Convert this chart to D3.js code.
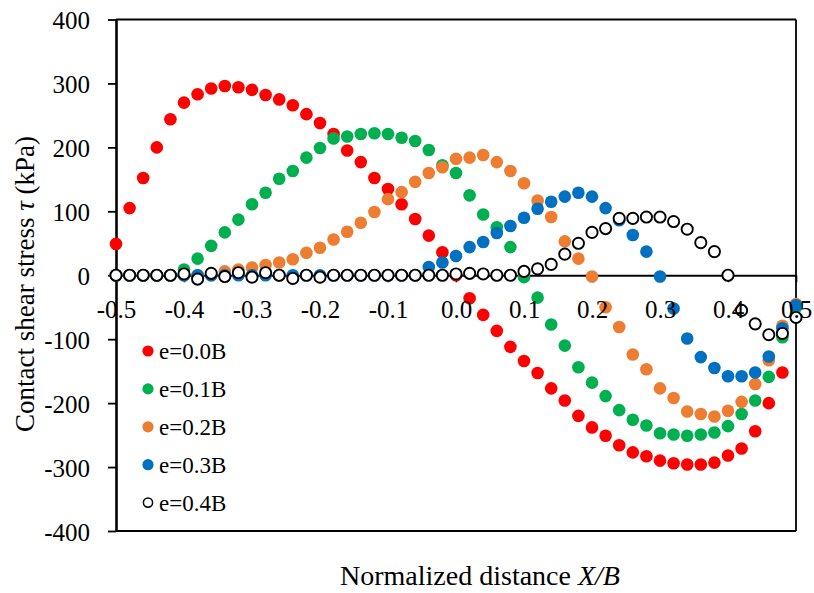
<!DOCTYPE html>
<html>
<head>
<meta charset="utf-8">
<script src="https://cdn.jsdelivr.net/npm/d3@7"></script>
<style>
  html, body { margin: 0; padding: 0; background: #fff; }
  svg { display: block; }
  text { font-family: "Liberation Serif", "Times New Roman", serif; fill: #000; }
</style>
</head>
<body>
<svg id="chart" width="814" height="593"></svg>
<script>
// Normalized positions along the footing, X/B
const xPos = [
  -0.50, -0.48, -0.46, -0.44, -0.42, -0.40, -0.38, -0.36, -0.34, -0.32,
  -0.30, -0.28, -0.26, -0.24, -0.22, -0.20, -0.18, -0.16, -0.14, -0.12,
  -0.10, -0.08, -0.06, -0.04, -0.02, 0.00, 0.02, 0.04, 0.06, 0.08,
  0.10, 0.12, 0.14, 0.16, 0.18, 0.20, 0.22, 0.24, 0.26, 0.28,
  0.30, 0.32, 0.34, 0.36, 0.38, 0.40, 0.42, 0.44, 0.46, 0.48, 0.50
];

// Contact shear stress (kPa) for each eccentricity
const tauE00 = [
  49, 105, 152, 200, 244, 270, 283, 292, 296, 294,
  290, 282, 275, 266, 252, 238, 221, 195, 177, 152,
  135, 111, 88, 62, 36, 0, -36, -62, -87, -112,
  -134, -153, -177, -196, -220, -238, -251, -266, -277, -283,
  -290, -294, -296, -296, -293, -282, -271, -244, -200, -152, -48
];
const tauE01 = [
  0, 0, 0, 0, 0, 9, 26, 46, 67, 87,
  111, 129, 151, 163, 184, 199, 214, 217, 221, 222,
  221, 215, 210, 196, 172, 160, 125, 95, 75, 44,
  -3, -35, -77, -110, -144, -168, -189, -211, -226, -235,
  -247, -249, -251, -249, -246, -236, -217, -196, -159, -97, -50
];
const tauE02 = [
  0, 0, 0, 0, 0, 0, 0, 0, 6, 9,
  12, 16, 20, 25, 35, 43, 56, 68, 82, 99,
  119, 130, 146, 160, 169, 182, 184, 188, 177, 163,
  144, 117, 91, 53, 26, -2, -50, -81, -124, -147,
  -177, -192, -213, -217, -221, -212, -198, -170, -133, -79, -45
];
const tauE03 = [
  0, 0, 0, 0, 0, 0, 0, 0, 0, 0,
  0, 0, 0, 0, 0, 0, 0, 0, 0, 0,
  0, 0, 0, 13, 20, 30, 44, 52, 66, 77,
  90, 104, 115, 123, 129, 123, 105, 86, 63, 37,
  -2, -52, -99, -128, -145, -158, -158, -152, -127, -83, -47
];
const tauE04 = [
  0, 0, 0, 0, 0, 2, -6, 3, -2, 4,
  -3, 4, 0, -5, 0, -3, 0, 0, 0, 0,
  0, 0, 0, 0, 0, 2, 3, 2, 0, 0,
  6, 10, 17, 33, 50, 67, 73, 89, 89, 91,
  91, 84, 72, 51, 37, 0, -55, -76, -93, -91, -66
];

const seriesNames = ["e=0.0B", "e=0.1B", "e=0.2B", "e=0.3B", "e=0.4B"];
const seriesValues = [tauE00, tauE01, tauE02, tauE03, tauE04];
const seriesColors = ["#FF0000", "#00B050", "#ED7D31", "#0070C0", "#000000"];
const seriesHollow = [false, false, false, false, true];

const xTickValues = [-0.5, -0.4, -0.3, -0.2, -0.1, 0.0, 0.1, 0.2, 0.3, 0.4, 0.5];
const yTickValues = [-400, -300, -200, -100, 0, 100, 200, 300, 400];

const svg = d3.select("#chart");
const plot = { left: 116, right: 796, top: 19.5, bottom: 531 };

const x = d3.scaleLinear().domain([-0.5, 0.5]).range([plot.left, plot.right]);
const y = d3.scaleLinear().domain([-400, 400]).range([plot.bottom, plot.top]);

// Frame: top, right and bottom edges of the plot area
const frame = svg.append("g").attr("stroke", "#000").attr("stroke-width", 1.8).attr("fill", "none");
frame.append("line").attr("x1", plot.left).attr("x2", plot.right).attr("y1", plot.top).attr("y2", plot.top);
frame.append("line").attr("x1", plot.right).attr("x2", plot.right).attr("y1", plot.top).attr("y2", plot.bottom);
frame.append("line").attr("x1", plot.left).attr("x2", plot.right).attr("y1", plot.bottom).attr("y2", plot.bottom);

// Vertical axis on the left
const yAxis = svg.append("g")
  .attr("transform", `translate(${plot.left},0)`)
  .call(d3.axisLeft(y).tickValues(yTickValues).tickSize(8).tickSizeOuter(0).tickPadding(18)
    .tickFormat(d => String(d)));
yAxis.select(".domain").attr("stroke", "#000").attr("stroke-width", 2.6);
yAxis.selectAll(".tick line").attr("stroke", "#000").attr("stroke-width", 1.8);
yAxis.selectAll(".tick text")
  .style("font-family", '"Liberation Serif", serif')
  .style("font-size", "25px")
  .attr("dy", "0.36em");

// Horizontal axis line and ticks crossing at zero stress (drawn under the markers)
const xAxisFn = d3.axisBottom(x).tickValues(xTickValues).tickSize(7).tickSizeOuter(0)
  .tickFormat(d => d.toFixed(1));
const xAxis = svg.append("g")
  .attr("transform", `translate(0,${y(0)})`)
  .call(xAxisFn);
xAxis.select(".domain").attr("stroke", "#000").attr("stroke-width", 2);
xAxis.selectAll(".tick line").attr("stroke", "#000").attr("stroke-width", 1.6);
xAxis.selectAll(".tick text").remove();

// Scatter markers, one layer per eccentricity (later series on top)
seriesValues.forEach((vals, s) => {
  const pts = xPos.map((xv, i) => ({ x: xv, v: vals[i] }));
  svg.append("g")
    .selectAll("circle")
    .data(pts)
    .join("circle")
    .attr("cx", d => x(d.x))
    .attr("cy", d => y(d.v))
    .attr("r", seriesHollow[s] ? 5.6 : 6.3)
    .attr("fill", seriesHollow[s] ? "#fff" : seriesColors[s])
    .attr("stroke", seriesHollow[s] ? "#000" : "none")
    .attr("stroke-width", seriesHollow[s] ? 1.9 : 0);
});

// Horizontal axis labels, drawn above the markers
const xLabels = svg.append("g")
  .attr("transform", `translate(0,${y(0)})`)
  .call(xAxisFn);
xLabels.select(".domain").remove();
xLabels.selectAll(".tick line").remove();
xLabels.selectAll(".tick text")
  .style("font-family", '"Liberation Serif", serif')
  .style("font-size", "25px")
  .attr("y", 43)
  .attr("dy", null);

// Legend
const legend = svg.append("g").attr("transform", "translate(148,351)");
seriesNames.forEach((name, s) => {
  const row = legend.append("g").attr("transform", `translate(0,${s * 37.9})`);
  row.append("circle")
    .attr("r", seriesHollow[s] ? 4.6 : 5.6)
    .attr("fill", seriesHollow[s] ? "#fff" : seriesColors[s])
    .attr("stroke", seriesHollow[s] ? "#000" : "none")
    .attr("stroke-width", seriesHollow[s] ? 1.5 : 0);
  row.append("text")
    .attr("x", 11)
    .attr("y", 8)
    .style("font-size", "23px")
    .text(name);
});

// Axis titles
const yTitle = svg.append("text")
  .attr("transform", "translate(34,284) rotate(-90)")
  .attr("text-anchor", "middle")
  .style("font-size", "27px");
yTitle.append("tspan").text("Contact shear stress ");
yTitle.append("tspan").style("font-style", "italic").text("τ");
yTitle.append("tspan").text(" (kPa)");

const xTitle = svg.append("text")
  .attr("x", 480)
  .attr("y", 585)
  .attr("text-anchor", "middle")
  .style("font-size", "28px");
xTitle.append("tspan").text("Normalized distance ");
xTitle.append("tspan").style("font-style", "italic").text("X/B");
</script>
</body>
</html>
